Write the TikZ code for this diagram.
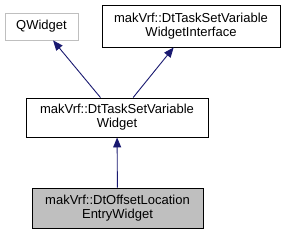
\documentclass[tikz,border=0pt]{standalone}
\usepackage{fontspec}
\setmainfont{Liberation Sans}
\usetikzlibrary{arrows.meta}
\definecolor{edgeblue}{HTML}{191970}
\begin{document}
\begin{tikzpicture}[x=1pt,y=-1pt,
  box/.style={draw=black,fill=white,line width=0.9pt,align=center,inner sep=0pt,
    font=\fontsize{13pt}{14pt}\selectfont},
  inherit/.style={edgeblue,line width=0.9pt,-{Triangle[length=10pt,width=8pt]}}]

\useasboundingbox (0,0) rectangle (289,235);

% Classes
\node[box,draw=black!25,minimum width=73pt,minimum height=27pt] (qw) at (41.5,26.5) {QWidget};
\node[box,minimum width=178pt,minimum height=42pt] (intf) at (191,26) {makVrf::DtTaskSetVariable\\WidgetInterface};
\node[box,minimum width=182pt,minimum height=39pt] (mid) at (117,117.5) {makVrf::DtTaskSetVariable\\Widget};
\node[box,fill=black!25,minimum width=171pt,minimum height=40pt] (entry) at (117.5,208) {makVrf::DtOffsetLocation\\EntryWidget};

% Inheritance
\draw[inherit] (mid) -- (qw);
\draw[inherit] (mid) -- (intf);
\draw[inherit] (entry) -- (mid);

\end{tikzpicture}
\end{document}
